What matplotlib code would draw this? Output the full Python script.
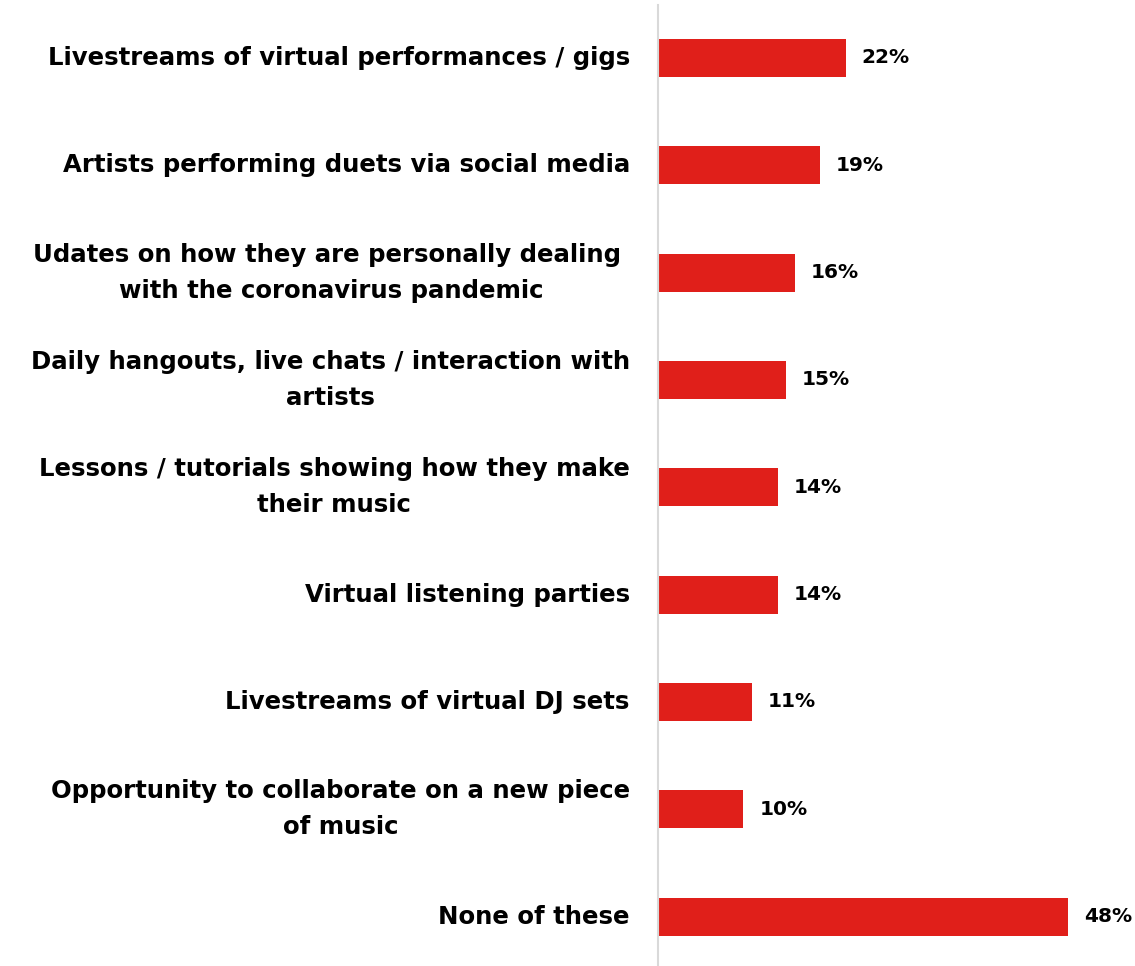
import numpy as np
import matplotlib.pyplot as plt

labels = [
    "Livestreams of virtual performances / gigs",
    "Artists performing duets via social media",
    "Udates on how they are personally dealing \nwith the coronavirus pandemic",
    "Daily hangouts, live chats / interaction with\nartists",
    "Lessons / tutorials showing how they make\ntheir music",
    "Virtual listening parties",
    "Livestreams of virtual DJ sets",
    "Opportunity to collaborate on a new piece\nof music",
    "None of these",
]
values = [22, 19, 16, 15, 14, 14, 11, 10, 48]

bar_color = "#E01F1A"

fig = plt.figure(figsize=(11.35, 9.66), dpi=100)
ax = fig.add_axes([658 / 1135, 0, 477 / 1135, 1])

y = np.arange(len(labels))
ax.barh(y, values, height=0.355, color=bar_color, left=0)
ax.set_xlim(0, 55.85)
ax.set_ylim(8.46, -0.54)

for s in ["top", "right", "bottom"]:
    ax.spines[s].set_visible(False)
ax.spines["left"].set_color("#d9d9d9")
ax.spines["left"].set_linewidth(1.5)
ax.spines["left"].set_bounds(8.46, -0.49)
ax.set_xticks([])
ax.set_yticks([])

for yi, v, lab in zip(y, values, labels):
    ax.text(v + 1.85, yi, f"{v}%", va="center", ha="left",
            fontsize=14.5, fontweight="bold", color="black")
    ax.text(-3.3, yi, lab, va="center", ha="right", multialignment="center",
            fontsize=17.6, fontweight="bold", color="black",
            linespacing=1.62, clip_on=False)

fig.savefig("out.png", dpi=100)
